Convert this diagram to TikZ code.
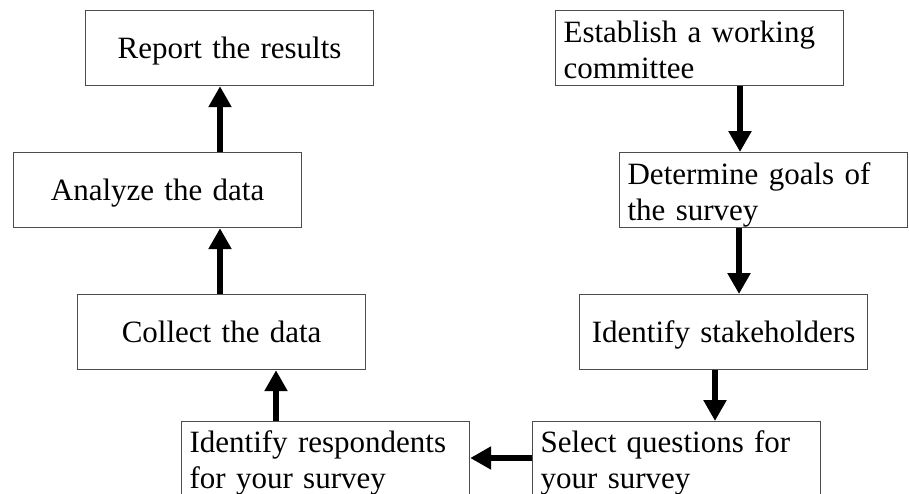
\documentclass[tikz,border=0pt]{standalone}
\usepackage{fontspec}
\setmainfont{Liberation Serif}
\usetikzlibrary{arrows.meta}
\begin{document}
\begin{tikzpicture}[x=1pt,y=-1pt,
  every node/.style={font=\fontsize{31}{36}\selectfont},
  boxbase/.style={draw=black!70,line width=1.2pt,rectangle,anchor=north west,
    inner ysep=0pt,minimum width=288pt},
  onebox/.style={boxbase,inner xsep=0pt,text width=288pt,align=center,
    text height=48pt,text depth=27pt},
  twobox/.style={boxbase,inner xsep=8pt,text width=272pt,align=left,
    text height=32pt,text depth=43pt},
  lowbox/.style={boxbase,inner xsep=8pt,text width=272pt,align=left,
    text height=31pt,text depth=60pt},
  arr/.style={line width=6.5pt,-{Triangle[width=22pt,length=21pt]}}]
\clip (0,0) rectangle (909,493);
\fill[white] (0,0) rectangle (909,493);
\node[onebox] (rep) at (85,10) {Report the results};
\node[onebox] (ana) at (13,152) {Analyze the data};
\node[onebox] (col) at (77,294) {Collect the data};
\node[lowbox] (idr) at (181,421) {Identify respondents\\for your survey};
\node[lowbox] (sel) at (532,421) {Select questions for\\your survey};
\node[onebox] (stk) at (579,294) {Identify stakeholders};
\node[twobox] (det) at (619,152) {Determine goals of\\the survey};
\node[twobox] (est) at (555,10) {Establish a working\\committee};
\draw[arr] (ana.north -| 220,0) -- (rep.south -| 220,0);
\draw[arr] (col.north -| 220,0) -- (ana.south -| 220,0);
\draw[arr] (idr.north -| 276,0) -- (col.south -| 276,0);
\draw[arr] (sel.west |- 0,458) -- (idr.east |- 0,458);
\draw[arr] (stk.south -| 715,0) -- (sel.north -| 715,0);
\draw[arr] (det.south -| 739,0) -- (stk.north -| 739,0);
\draw[arr] (est.south -| 740,0) -- (det.north -| 740,0);
\end{tikzpicture}
\end{document}
